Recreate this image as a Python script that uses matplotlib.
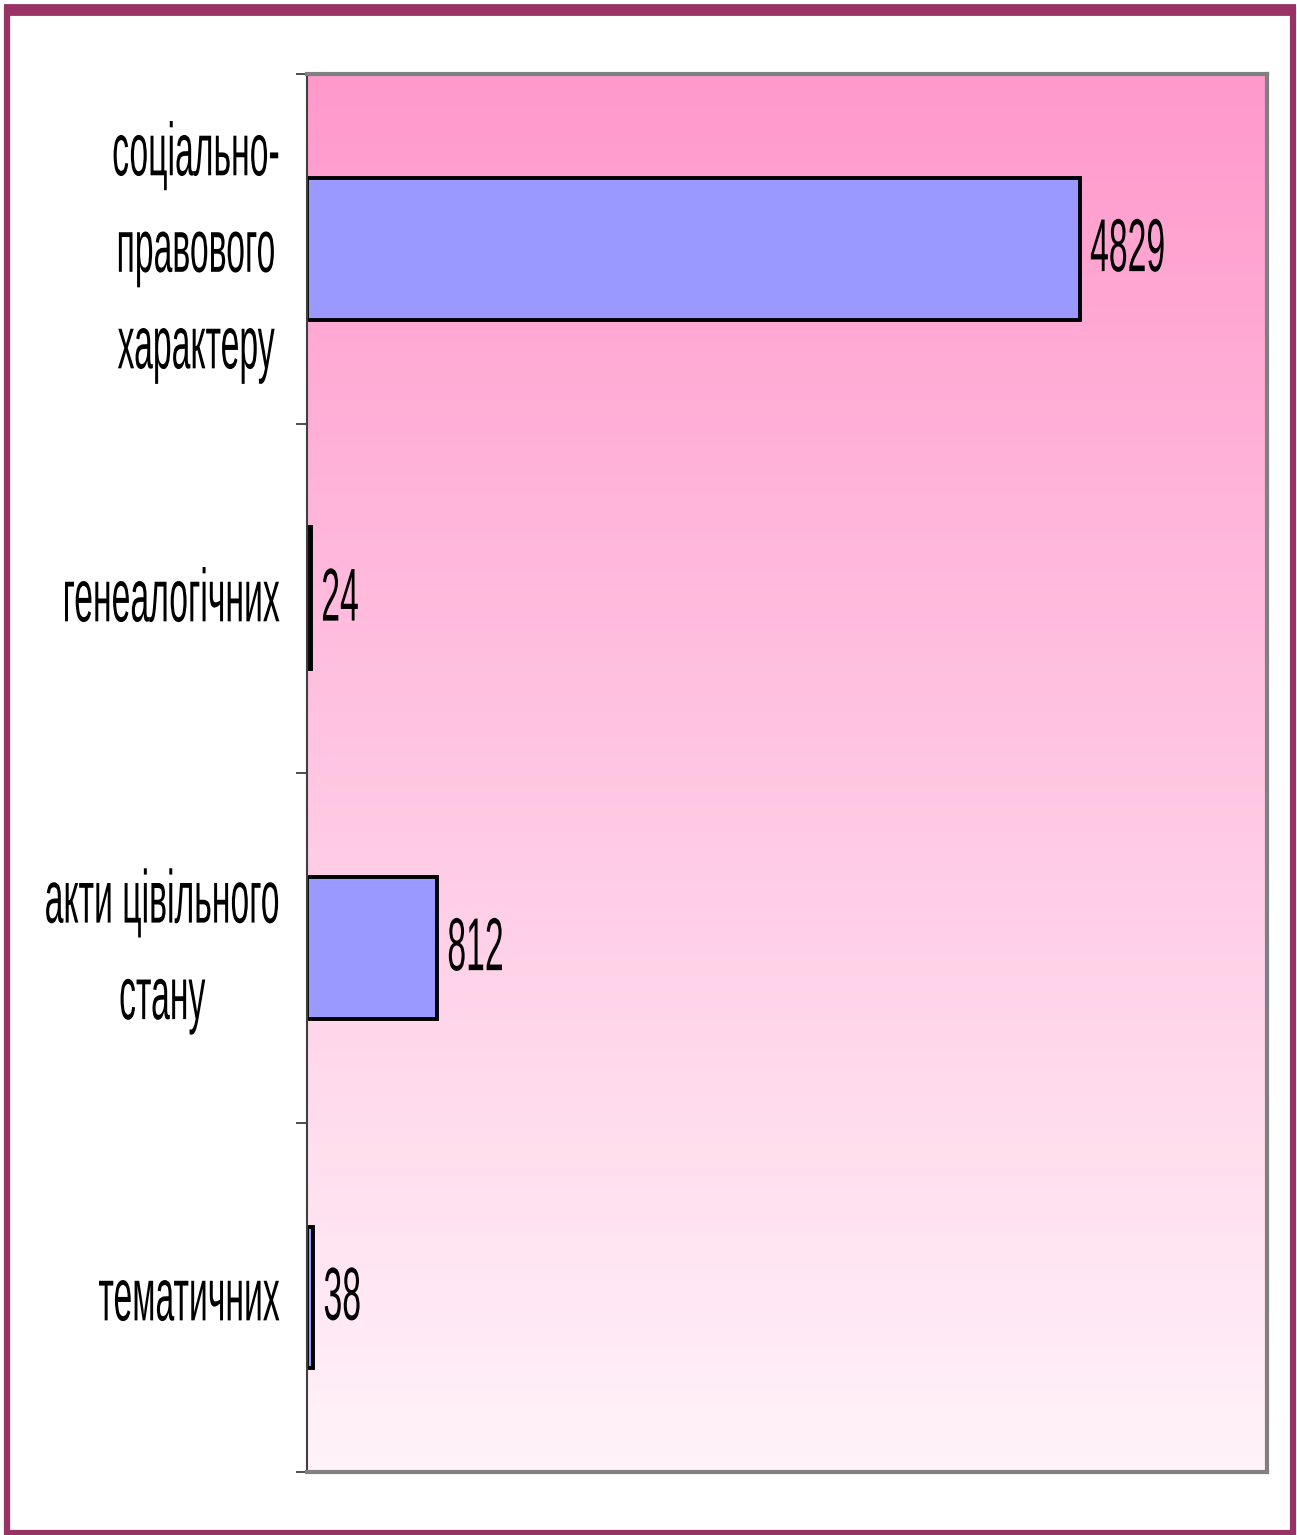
import numpy as np
import matplotlib
matplotlib.use('Agg')
import matplotlib.pyplot as plt
from matplotlib.colors import LinearSegmentedColormap
from matplotlib.lines import Line2D
from matplotlib.patches import Rectangle
from matplotlib.patheffects import AbstractPathEffect
from matplotlib.text import Text
from matplotlib.transforms import Affine2D, Bbox, offset_copy

categories = ['соціально-\nправового\nхарактеру', 'генеалогічних', 'акти цівільного\nстану', 'тематичних']
values = [4829, 24, 812, 38]
x_max = 6000


class Stretch(AbstractPathEffect):
    """Stretch the glyphs vertically around the text anchor (tall condensed look)."""
    def __init__(self, text, sy):
        super().__init__()
        self.text = text
        self.sy = sy

    def draw_path(self, renderer, gc, tpath, affine, rgbFace=None):
        anchor = self.text.anchor_y()
        stretch = Affine2D().translate(0, -anchor).scale(1, self.sy).translate(0, anchor)
        renderer.draw_path(gc, tpath, affine + stretch, rgbFace)


class TallText(Text):
    """Text drawn stretched vertically; the extent reports the stretched box."""
    def __init__(self, *args, sy=2.22, **kwargs):
        super().__init__(*args, **kwargs)
        self.sy = sy
        self.set_path_effects([Stretch(self, sy)])

    def anchor_y(self):
        return self.get_transform().transform(self.get_unitless_position())[1]

    def get_window_extent(self, renderer=None, dpi=None):
        bbox = super().get_window_extent(renderer, dpi)
        a = self.anchor_y()
        y0 = a + (bbox.y0 - a) * self.sy
        y1 = a + (bbox.y1 - a) * self.sy
        return Bbox([[bbox.x0, y0], [bbox.x1, y1]])


plt.rcParams['font.family'] = ['Liberation Sans', 'DejaVu Sans']
FS = 24.3

fig = plt.figure(figsize=(12.97, 15.35), dpi=100)
ax = fig.add_axes([0.2367, 0.0410, 0.7402, 0.9108])

# pink gradient in the plot area
grad = np.linspace(0, 1, 256).reshape(-1, 1)
cmap = LinearSegmentedColormap.from_list('pinkfade', ['#FFF3F9', '#FF99CC'])
ax.imshow(grad, cmap=cmap, extent=[0, 1, 0, 1], transform=ax.transAxes,
          origin='lower', aspect='auto', zorder=0)

y = np.arange(len(categories))
ax.barh(y, values, height=0.405, color='#9999FF', edgecolor='black', linewidth=2.8, zorder=2)

ax.set_xlim(0, x_max)
ax.set_ylim(len(categories) - 0.5, -0.5)

# value labels
val_tr = offset_copy(ax.transData, fig, x=7.5, y=0, units='points')
for i, v in enumerate(values):
    ax.add_artist(TallText(v, i + 0.01, str(v), ha='left', va='center', fontsize=FS,
                           transform=val_tr, clip_on=False, zorder=3))

# category labels
cat_tr = offset_copy(ax.get_yaxis_transform(), fig, x=-19.5, y=0, units='points')
for i, name in enumerate(categories):
    ax.add_artist(TallText(0, i + 0.012, name, ha='right', va='center', multialignment='center',
                           linespacing=1.52, fontsize=FS, transform=cat_tr, clip_on=False))

# tick marks at the band edges only
ax.set_yticks(np.arange(len(categories) + 1) - 0.5)
ax.tick_params(axis='y', length=8, width=1.3, color='#404040', direction='out', labelleft=False)
ax.set_xticks([])

for side in ['top', 'right', 'bottom']:
    ax.spines[side].set_color('#808080')
    ax.spines[side].set_linewidth(3)
ax.spines['left'].set_color('#404040')
ax.spines['left'].set_linewidth(1.5)

# outer frame
fig.patches.append(Rectangle((7 / 1297, 2 / 1535), 1286 / 1297, 1523 / 1535,
                             transform=fig.transFigure, fill=False,
                             edgecolor='#993366', linewidth=4.5))
fig.lines.append(Line2D([4 / 1297, 1296 / 1297], [1 - 10 / 1535, 1 - 10 / 1535],
                        transform=fig.transFigure, color='#993366', linewidth=8.5,
                        solid_capstyle='butt'))

fig.savefig('out.png', dpi=100)
